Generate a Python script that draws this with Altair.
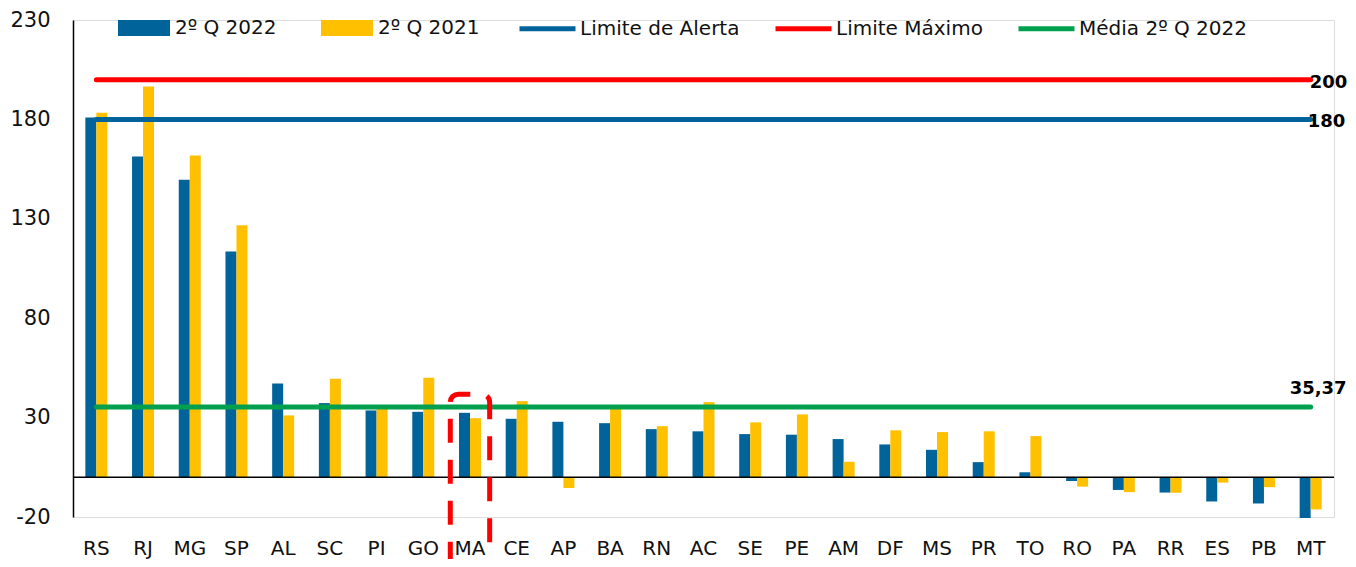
import altair as alt
import pandas as pd

states = ["RS", "RJ", "MG", "SP", "AL", "SC", "PI", "GO", "MA", "CE", "AP", "BA", "RN", "AC",
          "SE", "PE", "AM", "DF", "MS", "PR", "TO", "RO", "PA", "RR", "ES", "PB", "MT"]
q2_2022 = [180.9, 161.3, 149.7, 113.5, 47.2, 37.3, 33.6, 32.9, 32.4, 29.4, 27.9, 27.2, 24.2, 23.1,
           21.7, 21.4, 19.2, 16.5, 13.8, 7.6, 2.5, -1.9, -6.4, -7.7, -12.2, -13.2, -20.5]
q2_2021 = [183.4, 196.6, 161.9, 126.7, 31.1, 49.5, 34.5, 50.0, 29.7, 38.3, -5.4, 35.0, 25.7, 37.8,
           27.6, 31.6, 7.8, 23.6, 22.7, 23.1, 20.7, -4.7, -7.5, -7.8, -2.7, -5.0, -16.2]
bar_series = ["2º Q 2022", "2º Q 2021"]
bar_colors = ["#00649A", "#FFC000"]
ref_series = ["Limite de Alerta", "Limite Máximo", "Média 2º Q 2022"]
ref_values = [180, 200, 35.37]
ref_colors = ["#00649A", "#FF0000", "#00A04E"]
ref_labels = ["180", "200", "35,37"]
ref_label_dx = [-3, -1, -21]
ref_label_dy = [3, 3, -18]
highlight_state = "MA"
highlight_top = 41.8
highlight_bottom = -55.4
y_ticks = [-20, 30, 80, 130, 180, 230]

FONT = "DejaVu Sans"

bars_df = pd.DataFrame(
    [{"state": s, "series": bar_series[0], "value": v} for s, v in zip(states, q2_2022)]
    + [{"state": s, "series": bar_series[1], "value": v} for s, v in zip(states, q2_2021)]
)
lines_df = pd.DataFrame(
    [{"state": s, "series": name, "value": val}
     for name, val in zip(ref_series, ref_values) for s in states]
)

x_scale = alt.Scale(domain=states, paddingInner=0.529, paddingOuter=0.2645)
y_scale = alt.Scale(domain=[-20, 230], nice=False, zero=False)

x_enc = alt.X("state:N", sort=states, scale=x_scale,
              axis=alt.Axis(title=None, domain=False, ticks=False, labelAngle=0,
                            labelPadding=21, labelFontSize=20, labelFont=FONT,
                            labelColor="#111111"))
y_enc = alt.Y("value:Q", scale=y_scale,
              axis=alt.Axis(title=None, values=y_ticks, grid=False, ticks=False,
                            domain=True, domainColor="black", domainWidth=1.5,
                            labelExpr="'' + datum.value",
                            labelPadding=23, labelFontSize=21, labelFont=FONT,
                            labelColor="#111111"))

bars = alt.Chart(bars_df).mark_bar().encode(
    x=x_enc,
    xOffset=alt.XOffset("series:N", sort=bar_series,
                        scale=alt.Scale(domain=bar_series, paddingInner=0, paddingOuter=0)),
    y=y_enc,
    fill=alt.Fill("series:N", sort=bar_series,
                  scale=alt.Scale(domain=bar_series, range=bar_colors),
                  legend=alt.Legend(orient="none", legendX=45, legendY=-18,
                                    direction="horizontal", title=None,
                                    symbolType="M-1,-0.31L1,-0.31L1,0.31L-1,0.31Z",
                                    symbolSize=2704, symbolStrokeWidth=0,
                                    labelFontSize=20, labelFont=FONT, labelColor="#111111",
                                    labelOffset=5, columnPadding=44, padding=0,
                                    labelLimit=400)),
)

baseline = alt.Chart(pd.DataFrame({"value": [0]})).mark_rule(
    color="black", strokeWidth=1.5
).encode(y=alt.Y("value:Q", scale=y_scale))

lines = alt.Chart(lines_df).mark_line(strokeWidth=5, strokeCap="round").encode(
    x=alt.X("state:N", sort=states, scale=x_scale),
    y=alt.Y("value:Q", scale=y_scale),
    stroke=alt.Stroke("series:N", sort=ref_series,
                      scale=alt.Scale(domain=ref_series, range=ref_colors),
                      legend=alt.Legend(orient="none", legendX=444, legendY=-22,
                                        direction="horizontal", title=None,
                                        symbolType="stroke", symbolSize=3136,
                                        symbolStrokeWidth=5,
                                        labelFontSize=20, labelFont=FONT, labelColor="#111111",
                                        labelOffset=2, columnPadding=25, padding=0,
                                        labelLimit=400)),
)

texts = []
for name, val, lab, dx, dy in zip(ref_series, ref_values, ref_labels, ref_label_dx, ref_label_dy):
    tdf = pd.DataFrame({"state": [states[-1]], "value": [val], "label": [lab]})
    texts.append(
        alt.Chart(tdf).mark_text(align="left", baseline="middle", dx=dx, dy=dy,
                                 fontSize=18, fontWeight="bold", font=FONT,
                                 color="black").encode(
            x=alt.X("state:N", sort=states, scale=x_scale),
            y=alt.Y("value:Q", scale=y_scale),
            text="label:N",
        )
    )

hl_df = pd.DataFrame({"state": [highlight_state], "top": [highlight_top],
                      "bottom": [highlight_bottom]})
highlight = alt.Chart(hl_df).mark_bar(
    filled=False, stroke="#FF0000", strokeWidth=5, strokeDash=[24, 17],
    strokeDashOffset=12, cornerRadius=8, width=alt.RelativeBandSize(1.79)
).encode(
    x=alt.X("state:N", sort=states, scale=x_scale),
    y=alt.Y("top:Q", scale=y_scale),
    y2=alt.Y2("bottom:Q"),
)

chart = alt.layer(bars, baseline, lines, *texts, highlight).properties(
    width=1261, height=497,
    autosize=alt.AutoSizeParams(type="none"),
    padding={"left": 65, "top": 12, "right": 14, "bottom": 42},
).configure_view(stroke=None).configure(background="white")

chart.save("out.html", embed_options={"renderer": "svg", "actions": False})
